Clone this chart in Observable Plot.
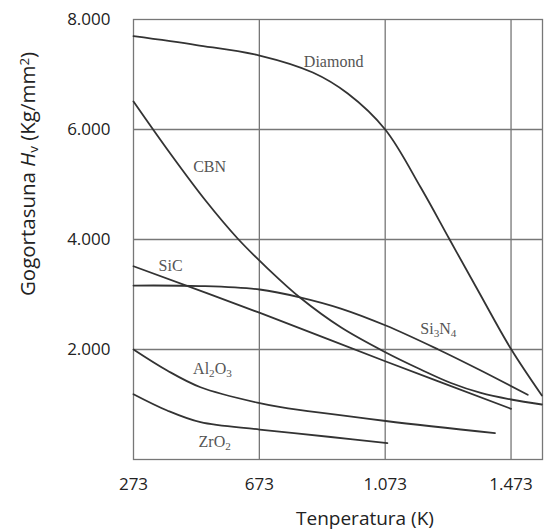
<!DOCTYPE html>
<html><head><meta charset="utf-8">
<script src="https://cdn.jsdelivr.net/npm/d3@7"></script>
<script src="https://cdn.jsdelivr.net/npm/@observablehq/plot@0.6"></script>
<style>body{margin:0;background:#fff} #chart{width:544px;height:531px}</style>
</head><body><div id="chart"></div>
<script>
// Tick values
const xTicks = [273, 673, 1073, 1473];
const yTicks = [2000, 4000, 6000, 8000];

// Series: temperature (K) and hardness Hv (kg/mm2)
const diamondT = [273, 473, 674, 843, 954, 1073, 1186, 1276, 1368, 1473, 1571];
const diamondH = [7696, 7536, 7345, 7036, 6654, 6000, 4945, 4018, 3073, 2009, 1164];
const cbnT = [273, 391, 502, 604, 703, 805, 932, 1075, 1186, 1282, 1377, 1473, 1571];
const cbnH = [6509, 5554, 4708, 4018, 3454, 2931, 2404, 1946, 1636, 1391, 1211, 1091, 1000];
const sicT = [273, 673, 1073, 1473];
const sicH = [3514, 2669, 1787, 922];
const si3n4T = [273, 486, 674, 805, 932, 1075, 1240, 1377, 1526];
const si3n4H = [3163, 3154, 3091, 2945, 2745, 2436, 2005, 1618, 1176];
const al2o3T = [273, 380, 486, 674, 741, 1075, 1422];
const al2o3H = [2000, 1618, 1314, 1024, 951, 700, 478];
const zro2T = [273, 380, 486, 674, 900, 1080];
const zro2H = [1187, 891, 678, 545, 409, 296];

// Curve labels
const labelNames = ["Diamond", "CBN", "SiC", "Si3N4", "Al2O3", "ZrO2"];
const labelT = [909, 515, 391, 1242, 524, 531];
const labelH = [7236, 5314, 3527, 2380, 1654, 327];

const series = [
  ["Diamond", diamondT, diamondH],
  ["CBN", cbnT, cbnH],
  ["SiC", sicT, sicH],
  ["Si3N4", si3n4T, si3n4H],
  ["Al2O3", al2o3T, al2o3H],
  ["ZrO2", zro2T, zro2H]
];
const rows = series.flatMap(([name, T, H]) => T.map((t, i) => ({name, t, h: H[i]})));
const labelRows = labelNames.map((n, i) => ({name: n, t: labelT[i], h: labelH[i]}));

const fmt = d => d >= 1000 ? d3.format(",")(d).replace(/,/g, ".") : String(d);
const sans = "'Open Sans', 'Liberation Sans', sans-serif";
const serif = "'Liberation Serif', 'DejaVu Serif', serif";

const plot = Plot.plot({
  width: 544, height: 531,
  marginLeft: 133, marginTop: 19, marginRight: 2, marginBottom: 72,
  style: {fontFamily: sans, fontSize: "17px", color: "#222", background: "#fff", overflow: "visible"},
  x: {domain: [273, 1573], ticks: xTicks, tickFormat: fmt, tickSize: 0, tickPadding: 18, label: null},
  y: {domain: [0, 8000], ticks: yTicks, tickFormat: fmt, tickSize: 0, tickPadding: 23, label: null},
  marks: [
    Plot.ruleX(xTicks.slice(1), {stroke: "#777", strokeWidth: 1.3}),
    Plot.ruleY(yTicks.slice(0, 3), {stroke: "#777", strokeWidth: 1.3}),
    Plot.frame({stroke: "#777", strokeWidth: 1.3}),
    Plot.line(rows, {x: "t", y: "h", z: "name", curve: "catmull-rom", stroke: "#333", strokeWidth: 1.8}),
    Plot.text(labelRows, {x: "t", y: "h", text: "name",
      fontFamily: serif, fontSize: 16, fill: "#555"})
  ]
});
document.getElementById("chart").appendChild(plot);

const svg = d3.select(plot);
// Subscripts in chemical formulas
svg.selectAll("text").filter(function() { return labelNames.includes(this.textContent) && /\d/.test(this.textContent); })
  .each(function() {
    const t = d3.select(this);
    const s = this.textContent;
    t.text(null);
    s.split(/(\d)/).filter(p => p !== "").forEach(p => {
      const sp = t.append("tspan").text(p);
      if (/^\d$/.test(p)) sp.attr("baseline-shift", "-0.3em").attr("font-size", "70%");
    });
  });

// Axis titles
const yt = svg.append("text")
  .attr("transform", "translate(28,174) rotate(-90)")
  .attr("text-anchor", "middle").attr("dy", "0.35em")
  .attr("font-family", sans).attr("font-size", 20.5).attr("fill", "#222");
yt.append("tspan").text("Gogortasuna ");
yt.append("tspan").attr("font-style", "italic").text("H");
yt.append("tspan").attr("baseline-shift", "-0.25em").attr("font-size", "65%").text("v");
yt.append("tspan").text(" (Kg/mm");
yt.append("tspan").attr("baseline-shift", "0.45em").attr("font-size", "65%").text("2");
yt.append("tspan").text(")");

svg.append("text")
  .attr("x", 365).attr("y", 518).attr("dy", "0.35em")
  .attr("text-anchor", "middle")
  .attr("font-family", sans).attr("font-size", 19).attr("fill", "#222")
  .text("Tenperatura (K)");
</script>
</body></html>
